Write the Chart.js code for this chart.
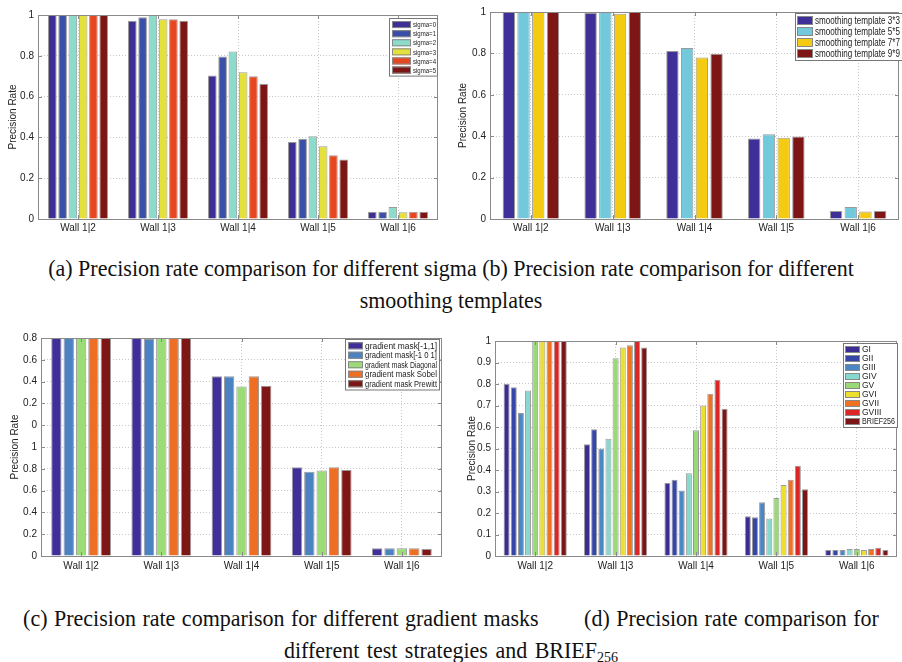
<!DOCTYPE html>
<html>
<head>
<meta charset="utf-8">
<script src="https://cdn.jsdelivr.net/npm/chart.js@4.4.1/dist/chart.umd.min.js"></script>
<style>
    body { margin: 0; background: #fff; width: 902px; height: 662px; position: relative; overflow: hidden; }
    .box { position: absolute; }
    .cap {
        position: absolute; left: 0; width: 902px; text-align: center;
        font-family: "Liberation Serif", "Times New Roman", serif; font-size: 22px;
        line-height: 24px; color: #111; white-space: pre;
        transform: scaleY(1.08);
    }
    .cap sub { font-size: 14px; vertical-align: -4px; line-height: 0; }
</style>
</head>
<body>
<div class="box" style="left:0;top:0;width:446px;height:240px"><canvas id="chartA"></canvas></div>
<div class="box" style="left:450px;top:0;width:452px;height:240px"><canvas id="chartB"></canvas></div>
<div class="box" style="left:0;top:320px;width:450px;height:260px"><canvas id="chartC"></canvas></div>
<div class="box" style="left:450px;top:320px;width:452px;height:260px"><canvas id="chartD"></canvas></div>

<div class="cap" style="top:256px">(a) Precision rate comparison for different sigma (b) Precision rate comparison for different</div>
<div class="cap" style="top:288px">smoothing templates</div>
<div class="cap" style="top:606px;word-spacing:1px">(c) Precision rate comparison for different gradient masks       (d) Precision rate comparison for</div>
<div class="cap" style="top:638px;word-spacing:2px">different test strategies and BRIEF<sub>256</sub></div>

<script>
// --- DATA ---
const walls = ['Wall 1|2', 'Wall 1|3', 'Wall 1|4', 'Wall 1|5', 'Wall 1|6'];

// (a) sigma
const sigmaLabels = ['sigma=0', 'sigma=1', 'sigma=2', 'sigma=3', 'sigma=4', 'sigma=5'];
const sigmaColors = ['#3d2f95', '#3a4fa8', '#8ddccb', '#e4e03c', '#e6471f', '#7c1515'];
const sigmaValues = [
    [1, 0.972, 0.703, 0.377, 0.036],
    [1, 0.989, 0.796, 0.392, 0.036],
    [1, 1.000, 0.821, 0.406, 0.059],
    [1, 0.979, 0.719, 0.357, 0.033],
    [1, 0.979, 0.700, 0.312, 0.036],
    [1, 0.972, 0.662, 0.292, 0.036]
];
const sigmaTicks = ['0', '0.2', '0.4', '0.6', '0.8', '1'];

// (b) smoothing templates
const templateLabels = ['smoothing template 3*3', 'smoothing template 5*5', 'smoothing template 7*7', 'smoothing template 9*9'];
const templateColors = ['#3f2f99', '#72c9dc', '#f5cb12', '#7e1616'];
const templateValues = [
    [1, 0.995, 0.811, 0.389, 0.039],
    [1, 1.000, 0.826, 0.409, 0.058],
    [1, 0.992, 0.780, 0.393, 0.036],
    [1, 1.000, 0.798, 0.399, 0.039]
];
const templateTicks = ['0', '0.2', '0.4', '0.6', '0.8', '1'];

// (c) gradient masks (axis labels in the original are mislabelled, kept as drawn)
const maskLabels = ['gradient mask[-1,1]', 'gradient mask[-1 0 1]', 'gradient mask Diagonal', 'gradient mask Sobel', 'gradient mask Prewitt'];
const maskColors = ['#402f99', '#4a82c2', '#9bdc79', '#ee6e24', '#7e1616'];
const maskValues = [
    [1, 1.000, 0.824, 0.407, 0.035],
    [1, 0.995, 0.824, 0.387, 0.035],
    [1, 1.000, 0.778, 0.392, 0.035],
    [1, 1.000, 0.824, 0.407, 0.035],
    [1, 1.000, 0.781, 0.394, 0.032]
];
const maskTicks = ['0', '0.2', '0.4', '0.6', '0.8', '1', '0', '0.2', '0.4', '0.6', '0.8'];

// (d) test strategies
const strategyLabels = ['GI', 'GII', 'GIII', 'GIV', 'GV', 'GVI', 'GVII', 'GVIII', 'BRIEF256'];
const strategyColors = ['#3b2d94', '#3545a8', '#4c86c4', '#88d9cd', '#9bd976', '#ecdf2e', '#ef7121', '#dc2626', '#7c1515'];
const strategyValues = [
    [0.800, 0.520, 0.340, 0.185, 0.028],
    [0.785, 0.590, 0.355, 0.180, 0.028],
    [0.665, 0.500, 0.305, 0.250, 0.028],
    [0.770, 0.545, 0.385, 0.175, 0.033],
    [1.000, 0.920, 0.585, 0.270, 0.033],
    [1.000, 0.970, 0.700, 0.330, 0.028],
    [1.000, 0.980, 0.755, 0.355, 0.033],
    [1.000, 1.000, 0.820, 0.420, 0.038],
    [1.000, 0.970, 0.685, 0.310, 0.028]
];
const strategyTicks = ['0', '0.1', '0.2', '0.3', '0.4', '0.5', '0.6', '0.7', '0.8', '0.9', '1'];

const FONT = '"Liberation Sans", Arial, sans-serif';

// --- PLUGIN: matlab-like frame, inner ticks and boxed legend ---
const matlabBox = {
    id: 'matlabBox',
    afterDraw(chart, args, opts) {
        const ctx = chart.ctx;
        const a = chart.chartArea;
        const xs = chart.scales.x, ys = chart.scales.y;
        ctx.save();
        ctx.strokeStyle = '#8a8a8a';
        ctx.lineWidth = 1;
        ctx.strokeRect(Math.round(a.left) + 0.5, Math.round(a.top) + 0.5, Math.round(a.right - a.left) - 1, Math.round(a.bottom - a.top));

        // small inward tick marks
        ctx.beginPath();
        ys.ticks.forEach((t, i) => {
            const y = Math.round(ys.getPixelForTick(i)) + 0.5;
            ctx.moveTo(a.left, y); ctx.lineTo(a.left + 4, y);
            ctx.moveTo(a.right, y); ctx.lineTo(a.right - 4, y);
        });
        xs.ticks.forEach((t, i) => {
            const x = Math.round(xs.getPixelForTick(i)) + 0.5;
            ctx.moveTo(x, a.bottom); ctx.lineTo(x, a.bottom - 4);
            ctx.moveTo(x, a.top); ctx.lineTo(x, a.top + 4);
        });
        ctx.stroke();

        // legend
        const ds = chart.data.datasets;
        const L = opts;
        const h = L.rowH * ds.length + 4;
        ctx.fillStyle = '#fff';
        ctx.fillRect(L.x, L.y, L.w, h);
        ctx.strokeStyle = '#777';
        ctx.strokeRect(L.x + 0.5, L.y + 0.5, L.w - 1, h - 1);
        ctx.font = L.fontSize + 'px ' + FONT;
        ctx.textBaseline = 'middle';
        ds.forEach((d, i) => {
            const cy = L.y + 2 + L.rowH * i + L.rowH / 2;
            ctx.fillStyle = d.backgroundColor;
            ctx.fillRect(L.x + L.swX, cy - L.swH / 2, L.swW, L.swH);
            ctx.strokeStyle = '#888';
            ctx.strokeRect(L.x + L.swX + 0.5, cy - L.swH / 2 + 0.5, L.swW - 1, L.swH - 1);
            ctx.fillStyle = '#222';
            const tx = L.x + L.swX + L.swW + 2;
            ctx.fillText(d.label, tx, cy + 0.5, L.x + L.w - tx - L.textRight);
        });
        ctx.restore();
    }
};

function makeChart(id, labels, colors, values, tickLabels, step, layout, legend, catPct) {
    const datasets = labels.map((lab, i) => ({
        label: lab,
        data: values[i],
        backgroundColor: colors[i],
        borderColor: '#9a9a9a',
        borderWidth: 1,
        borderSkipped: 'start',
        barPercentage: 0.84,
        categoryPercentage: catPct
    }));

    return new Chart(document.getElementById(id), {
        type: 'bar',
        data: { labels: walls, datasets: datasets },
        plugins: [matlabBox],
        options: {
            responsive: true,
            maintainAspectRatio: false,
            animation: false,
            layout: { padding: layout.padding },
            plugins: {
                legend: { display: false },
                tooltip: { enabled: false },
                matlabBox: legend
            },
            scales: {
                x: {
                    grid: { offset: false, color: '#c8c8c8', drawTicks: false },
                    border: { display: false, dash: [1, 2] },
                    ticks: { color: '#222', font: { family: FONT, size: 10 }, padding: layout.xPad, maxRotation: 0 },
                    afterFit: (s) => { s.height = layout.xH; }
                },
                y: {
                    min: 0, max: 1,
                    grid: { color: '#c8c8c8', drawTicks: false },
                    border: { display: false, dash: [1, 2] },
                    ticks: {
                        stepSize: step,
                        color: '#222',
                        font: { family: FONT, size: 10 },
                        padding: 4,
                        callback: (v, i) => tickLabels[i]
                    },
                    title: {
                        display: true, text: 'Precision Rate', color: '#222',
                        font: { family: FONT, size: 10 }, padding: { top: layout.titleLeft, bottom: 2 }
                    },
                    afterFit: (s) => { s.width = layout.yW; }
                }
            }
        }
    });
}

makeChart('chartA', sigmaLabels, sigmaColors, sigmaValues, sigmaTicks, 0.2,
    { padding: { left: 0, top: 15, right: 8, bottom: 0 }, xH: 21, xPad: 3, yW: 38, titleLeft: 7 },
    { x: 389, y: 18, w: 49, rowH: 9.1, swX: 3, swW: 19, swH: 7, fontSize: 8, textRight: 2 }, 0.77);

makeChart('chartB', templateLabels, templateColors, templateValues, templateTicks, 0.2,
    { padding: { left: 0, top: 12, right: 3, bottom: 0 }, xH: 21, xPad: 3, yW: 40, titleLeft: 7 },
    { x: 345, y: 13, w: 108, rowH: 11, swX: 2, swW: 16, swH: 9, fontSize: 10, textRight: 3 }, 0.72);

makeChart('chartC', maskLabels, maskColors, maskValues, maskTicks, 0.1,
    { padding: { left: 0, top: 18, right: 8, bottom: 0 }, xH: 24, xPad: 4, yW: 41, titleLeft: 9 },
    { x: 345, y: 19, w: 95, rowH: 9.5, swX: 3, swW: 15, swH: 7, fontSize: 8.5, textRight: 3 }, 0.77);

makeChart('chartD', strategyLabels, strategyColors, strategyValues, strategyTicks, 0.1,
    { padding: { left: 0, top: 21, right: 5, bottom: 0 }, xH: 24, xPad: 4, yW: 45, titleLeft: 16 },
    { x: 393, y: 23, w: 55, rowH: 9, swX: 2, swW: 15, swH: 7, fontSize: 8.5, textRight: 3 }, 0.8);
</script>
</body>
</html>
